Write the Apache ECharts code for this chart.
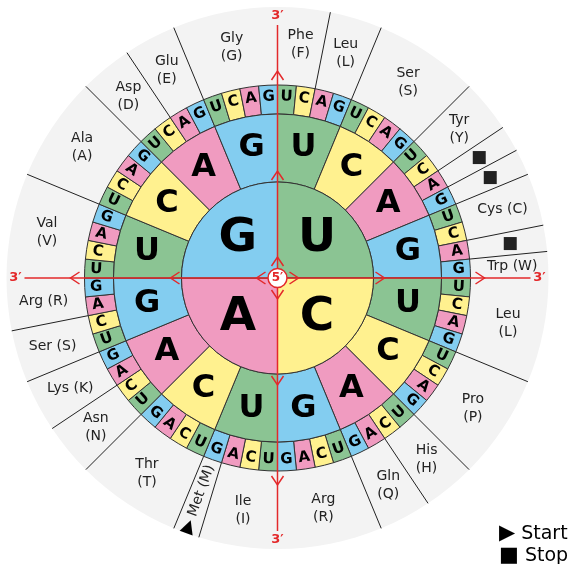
<!DOCTYPE html>
<html><head><meta charset="utf-8">
<script src="https://cdn.jsdelivr.net/npm/echarts@6/dist/echarts.min.js"></script>
<style>html,body{margin:0;padding:0;background:#fff}#c{width:571px;height:564px}</style>
</head><body><div id="c"></div>
<script>
// ---------- data ----------
const firstBase = ['U','C','A','G'];
const secondBase = ['U','C','A','G','U','C','A','G','U','C','A','G','U','C','A','G'];
const thirdBase = [
 'U','C','A','G','U','C','A','G','U','C','A','G','U','C','A','G',
 'U','C','A','G','U','C','A','G','U','C','A','G','U','C','A','G',
 'U','C','A','G','U','C','A','G','U','C','A','G','U','C','A','G',
 'U','C','A','G','U','C','A','G','U','C','A','G','U','C','A','G'];
const aminoLabels = ['Phe\n(F)','Leu\n(L)','Ser\n(S)','Tyr\n(Y)','■','■','Cys (C)','■','Trp (W)',
 'Leu\n(L)','Pro\n(P)','His\n(H)','Gln\n(Q)','Arg\n(R)',
 'Ile\n(I)','▶ Met (M)','Thr\n(T)','Asn\n(N)','Lys (K)','Ser (S)','Arg (R)',
 'Val\n(V)','Ala\n(A)','Asp\n(D)','Glu\n(E)','Gly\n(G)'];
const aminoCodons = [2,2,4,2,1,1,2,1,1, 4,4,2,2,4, 3,1,4,2,2,2,2, 4,4,2,2,4];
const stopMark = '■';
const startMark = '▶';
const legendItems = [['▶', 'Start'], ['■', 'Stop']];
const endLabel3 = '3′';
const endLabel5 = '5′';
const arrowDirections = [90, 0, 270, 180];

// ---------- style / layout ----------
const COLORS = {U:'#8bc493', C:'#fff18f', A:'#f09bc0', G:'#83cdf0'};
const CX = 277.5, CY = 278;
const R1 = 96, R2 = 164, R3 = 193, R4 = 271;
const RED = '#e3282a';
const FONT = 'DejaVu Sans';
const BORDER = '#333';
const ARROW_TIPS = [21, 107, 207];
const LINE_END = 253, END_LABEL_R = 262;

const step = 360 / thirdBase.length;
const norm = a => ((a % 360) + 360) % 360;

function letterRot(i) {
  const mid = 90 - (i + 0.5) * step;
  let r = (((mid - 90) % 90) + 90) % 90;
  if (r > 45) r -= 90;
  return r;
}

// amino group data
let cum = 0;
const aminoData = aminoLabels.map((n, i) => {
  const start = cum; cum += aminoCodons[i];
  const mid = 90 - (start + aminoCodons[i] / 2) * step;
  const item = {name: n, value: aminoCodons[i]};
  if (n === stopMark) item.label = {fontSize: 17};
  if (n.indexOf(startMark) === 0) item.label = {
    rotate: mid + 180,
    formatter: '{t|' + startMark + '} ' + n.slice(startMark.length).trim(),
    rich: {t: {fontSize: 18, fontFamily: FONT, color: '#000'}}
  };
  return item;
});
const boundaries = [];
cum = 0;
aminoCodons.forEach(c => { cum += c; if (cum % 16 !== 0) boundaries.push([R3, norm(90 - cum * step)]); });

const pieBase = {
  type: 'pie', center: [CX, CY], startAngle: 90, clockwise: true,
  silent: true, animation: false, avoidLabelOverlap: false,
  labelLine: {show: false}, emphasis: {disabled: true}
};

const chart = echarts.init(document.getElementById('c'), null, {renderer: 'canvas'});
chart.setOption({
  animation: false,
  title: {
    text: legendItems.map(p => '{m|' + p[0] + '} ' + p[1]).join('\n'), left: 494, top: 518,
    textStyle: {fontFamily: FONT, fontSize: 19, fontWeight: 'normal', color: '#000', lineHeight: 22,
      rich: {m: {fontFamily: FONT, fontSize: 21, color: '#000', lineHeight: 22}}}
  },
  polar: {center: [CX, CY], radius: R4},
  angleAxis: {type: 'value', min: 0, max: 360, startAngle: 0, clockwise: false, show: false},
  radiusAxis: {type: 'value', min: 0, max: R4, show: false},
  series: [
    Object.assign({}, pieBase, {
      z: 1, radius: [0, R4], data: [{name: '', value: 1, itemStyle: {color: '#f3f3f3'}}],
      label: {show: false}
    }),
    Object.assign({}, pieBase, {
      z: 2, radius: [R3, R4],
      itemStyle: {color: 'rgba(0,0,0,0)', borderWidth: 0},
      label: {show: true, position: 'inside', formatter: '{b}', rotate: 0, color: '#222',
        fontFamily: FONT, fontSize: 14, lineHeight: 18, textBorderWidth: 0},
      data: aminoData
    }),
    Object.assign({}, pieBase, {
      z: 3, radius: [R2, R3],
      itemStyle: {borderColor: BORDER, borderWidth: 1},
      label: {show: true, position: 'inside', formatter: '{b}', color: '#000',
        fontFamily: FONT, fontWeight: 'bold', fontSize: 15, textBorderWidth: 0},
      data: thirdBase.map((b, i) => ({name: b, value: 1, itemStyle: {color: COLORS[b]}, label: {rotate: letterRot(i)}}))
    }),
    Object.assign({}, pieBase, {
      z: 3, radius: [R1, R2],
      itemStyle: {borderColor: BORDER, borderWidth: 1},
      label: {show: true, position: 'inside', formatter: '{b}', rotate: 0, color: '#000',
        fontFamily: FONT, fontWeight: 'bold', fontSize: 32, textBorderWidth: 0},
      data: secondBase.map(b => ({name: b, value: 1, itemStyle: {color: COLORS[b]}}))
    }),
    Object.assign({}, pieBase, {
      z: 3, radius: [0, R1],
      itemStyle: {borderColor: BORDER, borderWidth: 1},
      label: {show: false},
      data: firstBase.map(b => ({name: b, value: 1, itemStyle: {color: COLORS[b]}}))
    }),
    Object.assign({}, pieBase, {
      z: 4, radius: [10, R1],
      itemStyle: {color: 'rgba(0,0,0,0)', borderWidth: 0},
      label: {show: true, position: 'inside', formatter: '{b}', rotate: 0, color: '#000',
        fontFamily: FONT, fontWeight: 'bold', fontSize: 47, textBorderWidth: 0},
      data: firstBase.map(b => ({name: b, value: 1}))
    }),
    {
      type: 'custom', coordinateSystem: 'polar', z: 5, silent: true, animation: false,
      data: boundaries,
      renderItem: (params, api) => {
        const a = api.value(1);
        const p1 = api.coord([R3, a]), p2 = api.coord([R4, a]);
        return {type: 'line', shape: {x1: p1[0], y1: p1[1], x2: p2[0], y2: p2[1]},
          style: {stroke: '#222', lineWidth: 1}};
      }
    },
    {
      type: 'custom', coordinateSystem: 'polar', z: 6, silent: true, animation: false,
      data: arrowDirections.map(d => [0, d]),
      renderItem: (params, api) => {
        const a = api.value(1);
        const c = api.coord([0, a]), e = api.coord([LINE_END, a]);
        const children = [{type: 'line', shape: {x1: c[0], y1: c[1], x2: e[0], y2: e[1]},
          style: {stroke: RED, lineWidth: 1.5}}];
        ARROW_TIPS.forEach(t => {
          const tp = api.coord([t, a]), bp = api.coord([t - 9, a]);
          const dx = tp[0] - bp[0], dy = tp[1] - bp[1];
          const L = Math.hypot(dx, dy) || 1;
          const px = -dy / L * 6, py = dx / L * 6;
          children.push({type: 'polyline', shape: {points: [[bp[0] + px, bp[1] + py], tp, [bp[0] - px, bp[1] - py]]},
            style: {stroke: RED, lineWidth: 1.5, fill: null}});
        });
        const lp = api.coord([END_LABEL_R, a]);
        children.push({type: 'text', x: lp[0], y: lp[1],
          style: {text: endLabel3, fill: RED, fontFamily: FONT, fontWeight: 'bold', fontSize: 13,
            align: 'center', verticalAlign: 'middle'}});
        return {type: 'group', children};
      }
    },
    {
      type: 'scatter', coordinateSystem: 'polar', z: 7, silent: true, animation: false,
      data: [[0, 0]], symbol: 'circle', symbolSize: 19,
      itemStyle: {color: '#fff', borderColor: RED, borderWidth: 1.5, opacity: 1},
      label: {show: true, position: 'inside', formatter: endLabel5, color: RED,
        fontFamily: FONT, fontWeight: 'bold', fontSize: 12}
    }
  ]
});
</script>
</body></html>
